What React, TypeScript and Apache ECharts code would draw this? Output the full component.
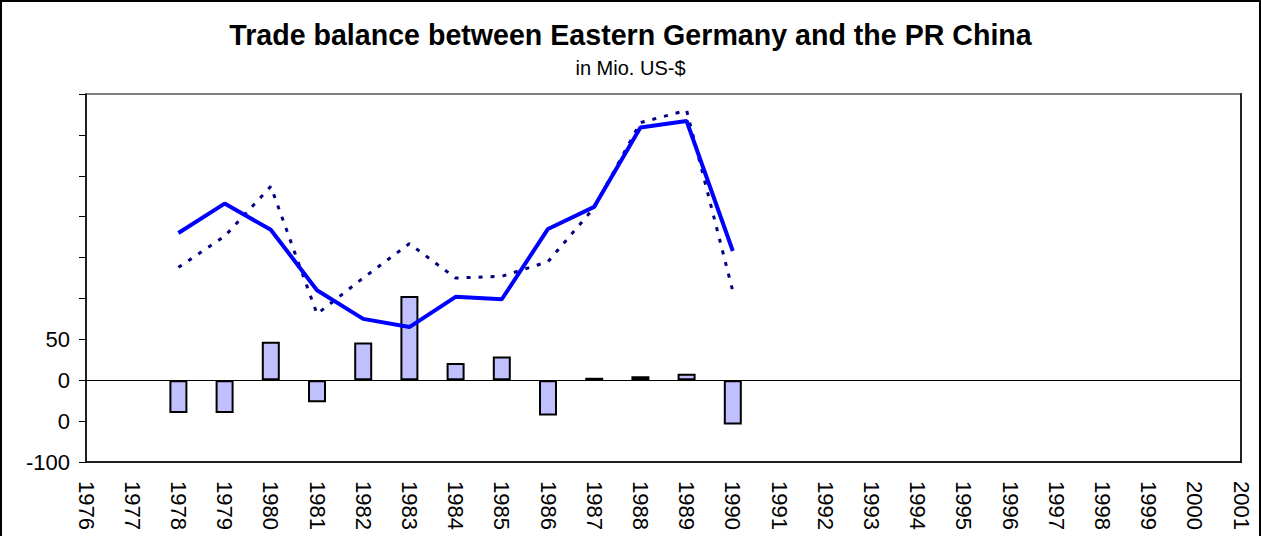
import React, { useEffect, useRef } from "react";
import * as echarts from "echarts";

const years = [
  "1976", "1977", "1978", "1979", "1980", "1981", "1982", "1983", "1984",
  "1985", "1986", "1987", "1988", "1989", "1990", "1991", "1992", "1993",
  "1994", "1995", "1996", "1997", "1998", "1999", "2000", "2001",
];

// Trade balance (bars), Mio. US-$
const balance: (number | null)[] = [
  null, null, -40, -40, 47, -27, 46, 103, 21, 29, -43, 3, 5, 8, -54,
  null, null, null, null, null, null, null, null, null, null, null,
];

// Solid blue line
const imports: (number | null)[] = [
  null, null, 180, 216, 184, 110, 75, 65, 102, 99, 185, 212, 309, 317, 158,
  null, null, null, null, null, null, null, null, null, null, null,
];

// Dotted navy line
const exports: (number | null)[] = [
  null, null, 138, 176, 237, 81, 125, 167, 125, 127, 145, 211, 315, 330, 109,
  null, null, null, null, null, null, null, null, null, null, null,
];

const yLabels: Record<number, string> = { 50: "50", 0: "0", [-50]: "0", [-100]: "-100" };

const FONT = "'Liberation Sans', Arial, sans-serif";

export default function App() {
  const ref = useRef<HTMLDivElement>(null);
  useEffect(() => {
    document.body.style.margin = "0";
    const chart = echarts.init(ref.current!, null, { renderer: "svg" });
    chart.setOption({
      animation: false,
      backgroundColor: "#ffffff",
      title: [
        {
          text: "Trade balance between Eastern Germany and the PR China",
          left: "center",
          top: 15,
          textStyle: { fontFamily: FONT, fontSize: 28.6, fontWeight: "bold", color: "#000" },
        },
        {
          text: "in Mio. US-$",
          left: "center",
          top: 53,
          textStyle: { fontFamily: FONT, fontSize: 20, fontWeight: "normal", color: "#000" },
        },
      ],
      graphic: [
        {
          type: "rect",
          shape: { x: 1, y: 1, width: 1259, height: 560 },
          style: { fill: "none", stroke: "#000", lineWidth: 2 },
          silent: true,
        },
      ],
      grid: {
        left: 86,
        right: 20,
        top: 94,
        bottom: 74,
        show: true,
        borderColor: "#808080",
        borderWidth: 2,
        backgroundColor: "transparent",
      },
      xAxis: {
        type: "category",
        data: years,
        boundaryGap: false,
        axisLine: { show: true, onZero: false, lineStyle: { color: "#000", width: 1.5 } },
        axisTick: { show: false },
        axisLabel: {
          rotate: -90,
          interval: 0,
          margin: 19,
          fontFamily: FONT,
          fontSize: 22,
          color: "#000",
        },
        splitLine: { show: false },
      },
      yAxis: [
        {
          type: "value",
          min: -100,
          max: 350,
          interval: 50,
          axisLine: { show: true, lineStyle: { color: "#000", width: 1.5 } },
          axisTick: { show: true, inside: false, length: 7, lineStyle: { color: "#000" } },
          axisLabel: {
            margin: 16,
            fontFamily: FONT,
            fontSize: 22,
            color: "#000",
            formatter: (v: number) => yLabels[v] ?? "",
          },
          splitLine: { show: false },
        },
        {
          type: "value",
          position: "right",
          min: -100,
          max: 350,
          interval: 50,
          axisLine: { show: true, lineStyle: { color: "#222", width: 2 } },
          axisTick: { show: false },
          axisLabel: { show: false },
          splitLine: { show: false },
        },
      ],
      series: [
        {
          name: "Trade balance",
          type: "bar",
          data: balance,
          barWidth: 18,
          itemStyle: { color: "#c0c0ff", borderColor: "#000", borderWidth: 2 },
          markLine: {
            silent: true,
            symbol: "none",
            label: { show: false },
            lineStyle: { color: "#000", width: 1, type: "solid" },
            data: [{ yAxis: 0 }],
          },
        },
        {
          name: "Imports from China",
          type: "line",
          data: imports,
          symbol: "none",
          lineStyle: { color: "#0000ff", width: 4 },
          itemStyle: { color: "#0000ff" },
          z: 4,
        },
        {
          name: "Exports to China",
          type: "line",
          data: exports,
          symbol: "none",
          lineStyle: { color: "#000080", width: 3, type: [4, 8] },
          itemStyle: { color: "#000080" },
          z: 3,
        },
      ],
    });
    return () => chart.dispose();
  }, []);
  return <div ref={ref} style={{ width: 1261, height: 536 }} />;
}
